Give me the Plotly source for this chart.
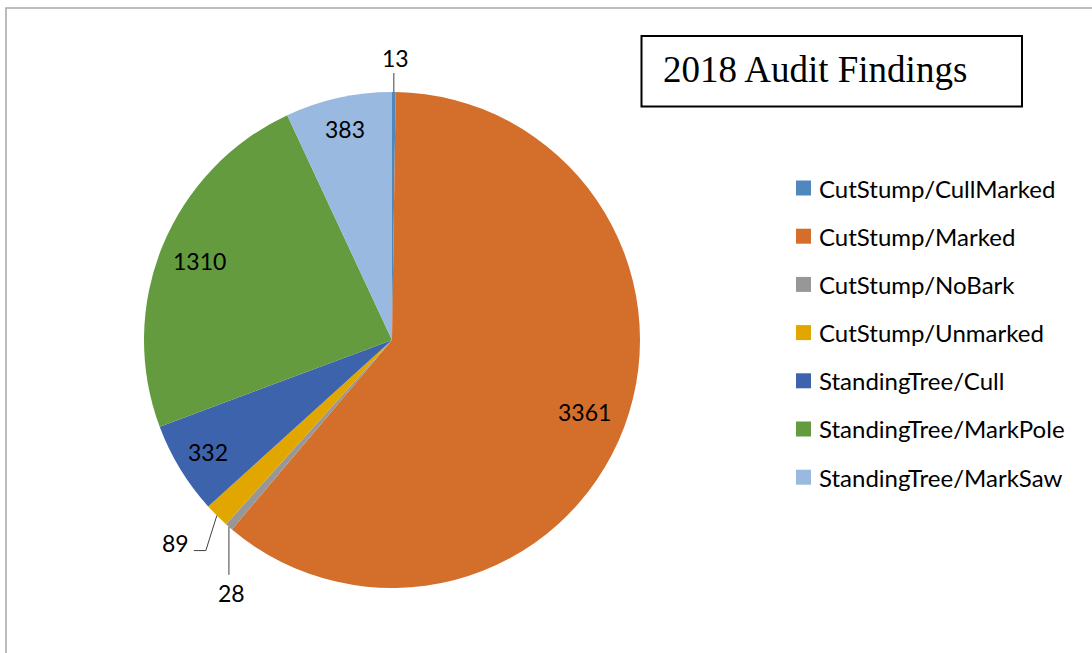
import math
import plotly.graph_objects as go

# ---- data ----
categories = ["CutStump/CullMarked", "CutStump/Marked", "CutStump/NoBark",
              "CutStump/Unmarked", "StandingTree/Cull", "StandingTree/MarkPole",
              "StandingTree/MarkSaw"]
counts = [13, 3361, 28, 89, 332, 1310, 383]
title_text = "2018 Audit Findings"

# ---- styles ----
colors = ["#4F87BF", "#D36E2B", "#979797", "#E1A700", "#3E63AD", "#639B3E", "#99B9E0"]
W, H = 1092, 653
CX, CY, R = 392, 340, 248          # pie centre / radius in px
label_font = dict(family="Lato, Carlito, Calibri, sans-serif", size=23, color="#000000")
legend_font = dict(family="Lato, Carlito, Calibri, sans-serif", size=24, color="#000000")
# per-slice label placement: ("in", radius fraction) or ("out", dx, dy, leader path offsets)
label_place = [
    ("out", 2, -34, [(0, 0), (0, -19)]),
    ("in", 0.83),
    ("out", 3, 66, [(0, 0), (0, 48)]),
    ("out", -41, 27, [(0, 0), (-11, 35), (-23, 35)]),
    ("in", 0.87),
    ("in", 0.84),
    ("in", 0.87),
]

def px2paper(x, y):
    return x / W, 1 - y / H

fig = go.Figure(go.Pie(
    labels=categories, values=counts, sort=False, direction="clockwise",
    rotation=0, marker=dict(colors=colors, line=dict(width=0)),
    textinfo="none", hoverinfo="label+value", showlegend=False,
    domain=dict(x=[(CX - R) / W, (CX + R) / W], y=[1 - (CY + R) / H, 1 - (CY - R) / H]),
))

annotations = []
shapes = []
total = sum(counts)
cum = 0
for i, v in enumerate(counts):
    theta = math.radians((cum + v / 2) / total * 360)
    cum += v
    place = label_place[i]
    if place[0] == "in":
        r = place[1] * R
        lx, ly = CX + r * math.sin(theta), CY - r * math.cos(theta)
    else:
        ex, ey = CX + R * math.sin(theta), CY - R * math.cos(theta)
        lx, ly = ex + place[1], ey + place[2]
        pts = [px2paper(ex + dx, ey + dy) for dx, dy in place[3]]
        path = "M " + " L ".join(f"{p[0]:.5f},{p[1]:.5f}" for p in pts)
        shapes.append(dict(type="path", xref="paper", yref="paper", path=path,
                           line=dict(color="#404040", width=1)))
    ax, ay = px2paper(lx, ly)
    annotations.append(dict(x=ax, y=ay, xref="paper", yref="paper", text=str(v),
                            showarrow=False, xanchor="center", yanchor="middle",
                            font=label_font))

# manual legend
leg_x0, leg_y0, leg_gap, sw = 796, 188, 48.2, 15
for i, (cat, col) in enumerate(zip(categories, colors)):
    yc = leg_y0 + i * leg_gap
    x0, y0 = px2paper(leg_x0, yc - sw / 2)
    x1, y1 = px2paper(leg_x0 + sw, yc + sw / 2)
    shapes.append(dict(type="rect", xref="paper", yref="paper", x0=x0, x1=x1, y0=y1, y1=y0,
                       fillcolor=col, line=dict(width=0)))
    tx, ty = px2paper(leg_x0 + sw + 6, yc)
    annotations.append(dict(x=tx, y=ty, xref="paper", yref="paper", text=cat, showarrow=False,
                            xanchor="left", yanchor="middle", font=legend_font))

# title box
bx0, by0 = px2paper(641.5, 36)
bx1, by1 = px2paper(1022, 106.5)
shapes.append(dict(type="rect", xref="paper", yref="paper", x0=bx0, x1=bx1, y0=by1, y1=by0,
                   line=dict(color="#000000", width=2), fillcolor="rgba(0,0,0,0)"))
tx, ty = px2paper(661, 70)
annotations.append(dict(x=tx, y=ty, xref="paper", yref="paper", text=title_text, showarrow=False,
                        xanchor="left", yanchor="middle",
                        font=dict(family="Liberation Serif, Times New Roman, serif", size=37,
                                  color="#000000")))

# outer chart border
ox0, oy0 = px2paper(6, 8)
shapes.append(dict(type="rect", xref="paper", yref="paper", x0=ox0, x1=1.02, y0=-0.02, y1=oy0,
                   line=dict(color="#A6A6A6", width=1.5), fillcolor="rgba(0,0,0,0)"))

fig.update_layout(width=W, height=H, margin=dict(l=0, r=0, t=0, b=0),
                  paper_bgcolor="white", plot_bgcolor="white",
                  shapes=shapes, annotations=annotations)
fig.write_html("out.html")
